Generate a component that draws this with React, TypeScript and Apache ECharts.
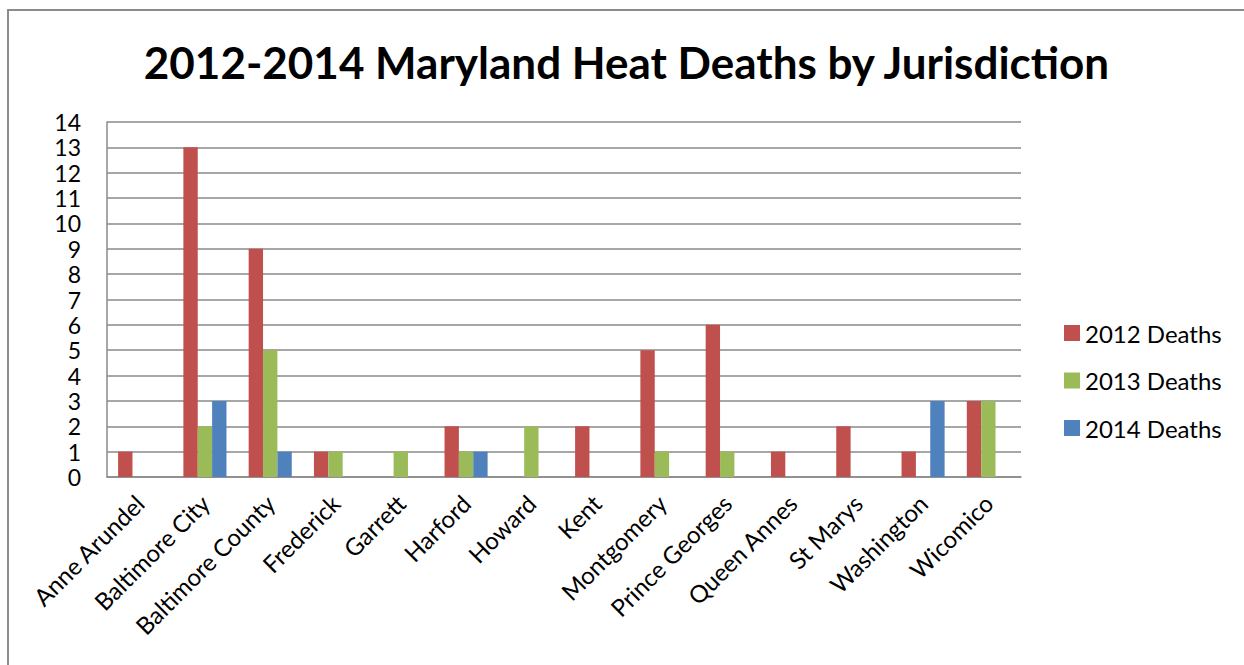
import React, { useEffect, useRef } from "react";
import * as echarts from "echarts";

const categories = [
  "Anne Arundel",
  "Baltimore City",
  "Baltimore County",
  "Frederick",
  "Garrett",
  "Harford",
  "Howard",
  "Kent",
  "Montgomery",
  "Prince Georges",
  "Queen Annes",
  "St Marys",
  "Washington",
  "Wicomico",
];
const deaths2012 = [1, 13, 9, 1, 0, 2, 0, 2, 5, 6, 1, 2, 1, 3];
const deaths2013 = [0, 2, 5, 1, 1, 1, 2, 0, 1, 1, 0, 0, 0, 3];
const deaths2014 = [0, 3, 1, 0, 0, 1, 0, 0, 0, 0, 0, 0, 3, 0];
const seriesNames = ["2012 Deaths", "2013 Deaths", "2014 Deaths"];
const seriesColors = ["#C0504D", "#9BBB59", "#4F81BD"];
const titleText = "2012-2014 Maryland Heat Deaths by Jurisdiction";

const FONT = "Lato, 'Open Sans', sans-serif";

export default function App() {
  const ref = useRef<HTMLDivElement>(null);
  useEffect(() => {
    if (!ref.current) return;
    const chart = echarts.init(ref.current, undefined, { renderer: "svg" });
    const data = [deaths2012, deaths2013, deaths2014];
    chart.setOption({
      animation: false,
      textStyle: { fontFamily: FONT },
      title: {
        text: titleText,
        left: "center",
        top: 24,
        textStyle: {
          fontFamily: FONT,
          fontWeight: "bold",
          fontSize: 44,
          color: "#000",
        },
      },
      legend: {
        orient: "vertical",
        left: 1055,
        top: 309,
        padding: 0,
        itemWidth: 16,
        itemHeight: 16,
        itemGap: 21.5,
        icon: "rect",
        textStyle: { fontFamily: FONT, fontSize: 24, color: "#000", lineHeight: 26 },
        data: seriesNames,
      },
      grid: { left: 98, top: 111, width: 914, height: 355, containLabel: false },
      xAxis: {
        type: "category",
        data: categories,
        axisLine: { show: true, lineStyle: { color: "#8a8a8a", width: 1.5 } },
        axisTick: { show: false },
        axisLabel: {
          interval: 0,
          rotate: 45,
          margin: 22,
          fontFamily: FONT,
          fontSize: 24,
          color: "#000",
        },
      },
      yAxis: {
        type: "value",
        min: 0,
        max: 14,
        interval: 1,
        axisLine: { show: true, lineStyle: { color: "#8a8a8a", width: 1.5 } },
        axisTick: { show: false },
        splitLine: { show: true, lineStyle: { color: "#8a8a8a", width: 1.5 } },
        axisLabel: {
          margin: 26,
          fontFamily: FONT,
          fontSize: 23,
          color: "#000",
        },
      },
      series: seriesNames.map((name, i) => ({
        name,
        type: "bar",
        data: data[i],
        barGap: "0%",
        barCategoryGap: "34%",
        itemStyle: { color: seriesColors[i] },
      })),
    });
    return () => chart.dispose();
  }, []);
  return (
    <div
      style={{
        position: "fixed",
        left: 7,
        top: 9,
        width: 1240,
        height: 660,
        borderLeft: "2px solid #8c8c8c",
        borderTop: "2px solid #8c8c8c",
        background: "#fff",
      }}
    >
      <div ref={ref} style={{ width: 1235, height: 654 }} />
    </div>
  );
}
